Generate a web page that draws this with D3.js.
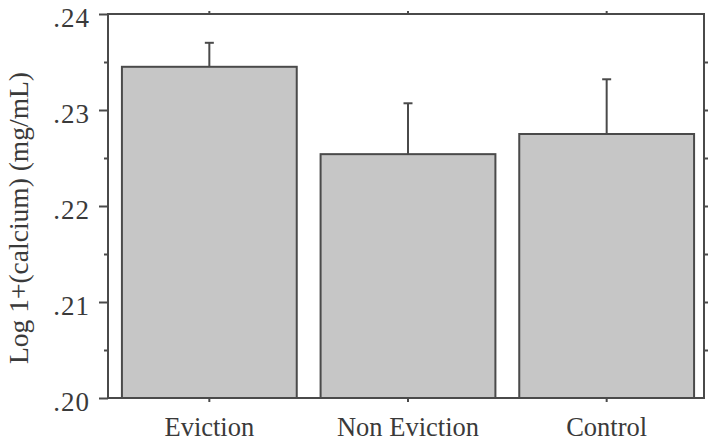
<!DOCTYPE html>
<html>
<head>
<meta charset="utf-8">
<script src="https://cdn.jsdelivr.net/npm/d3@7"></script>
<style>
  html, body { margin: 0; padding: 0; background: #fff; }
  svg text { font-family: "Liberation Serif", "Times New Roman", serif; fill: #3a3a3a; }
</style>
</head>
<body>
<svg id="chart" width="708" height="442"></svg>
<script>
const categories = ["Eviction", "Non Eviction", "Control"];
const means = [0.2345, 0.2254, 0.2275];
const errorTops = [0.2370, 0.2307, 0.2332];
const yTickValues = [0.20, 0.21, 0.22, 0.23, 0.24];
const yTickLabels = [".20", ".21", ".22", ".23", ".24"];
const yMinorTicks = [0.205, 0.215, 0.225, 0.235];
const yLabel = "Log 1+(calcium) (mg/mL)";

const svg = d3.select("#chart");
const frame = { left: 108, right: 704, top: 14, bottom: 398 };

const y = d3.scaleLinear().domain([0.20, 0.24]).range([frame.bottom, frame.top]);
const x = d3.scaleBand().domain(categories).range([110, 706]).paddingInner(0.12).paddingOuter(0.06);

const ink = "#4a4a4a";

// bars
svg.append("g").selectAll("rect").data(categories).join("rect")
  .attr("x", d => x(d))
  .attr("y", (d, i) => y(means[i]))
  .attr("width", x.bandwidth())
  .attr("height", (d, i) => y(0.20) - y(means[i]))
  .attr("fill", "#c6c6c6")
  .attr("stroke", ink)
  .attr("stroke-width", 2);

// error bars
const eb = svg.append("g").attr("stroke", ink).attr("stroke-width", 2);
categories.forEach((c, i) => {
  const cx = x(c) + x.bandwidth() / 2;
  eb.append("line").attr("x1", cx).attr("x2", cx).attr("y1", y(means[i])).attr("y2", y(errorTops[i]));
  eb.append("line").attr("x1", cx - 4.5).attr("x2", cx + 4.5).attr("y1", y(errorTops[i])).attr("y2", y(errorTops[i]));
});

// left axis
const left = svg.append("g").attr("transform", `translate(${frame.left},0)`)
  .call(d3.axisLeft(y).tickValues(yTickValues).tickFormat((d, i) => yTickLabels[i]).tickSize(9).tickPadding(0));
left.select(".domain").remove();
left.selectAll(".tick line").attr("stroke", ink).attr("stroke-width", 2);
left.selectAll(".tick text").attr("x", -18).attr("dy", "12.5").attr("font-size", 27)
  .attr("letter-spacing", 1)
  .attr("font-family", "Liberation Serif").attr("fill", "#3a3a3a");
svg.append("g").attr("transform", `translate(${frame.left},0)`)
  .call(d3.axisLeft(y).tickValues(yMinorTicks).tickFormat("").tickSize(4))
  .call(g => g.select(".domain").remove())
  .call(g => g.selectAll(".tick line").attr("stroke", ink).attr("stroke-width", 2));

// right axis ticks
svg.append("g").attr("transform", `translate(${frame.right},0)`)
  .call(d3.axisRight(y).tickValues(yMinorTicks.concat([0.21, 0.22, 0.23])).tickFormat("").tickSize(4))
  .call(g => g.select(".domain").remove())
  .call(g => g.selectAll(".tick line").attr("stroke", ink).attr("stroke-width", 2));

// bottom axis
const bottom = svg.append("g").attr("transform", `translate(0,${frame.bottom})`)
  .call(d3.axisBottom(x).tickSize(4).tickPadding(0));
bottom.select(".domain").remove();
bottom.selectAll(".tick line").attr("stroke", ink).attr("stroke-width", 2);
bottom.selectAll(".tick text").attr("y", 37.5).attr("dy", 0).attr("font-size", 26.5)
  .attr("font-family", "Liberation Serif").attr("fill", "#3a3a3a");

// top axis ticks
svg.append("g").attr("transform", `translate(0,${frame.top})`)
  .call(d3.axisTop(x).tickSize(3).tickFormat(""))
  .call(g => g.select(".domain").remove())
  .call(g => g.selectAll(".tick line").attr("stroke", ink).attr("stroke-width", 2));

// frame
svg.append("rect")
  .attr("x", frame.left).attr("y", frame.top)
  .attr("width", frame.right - frame.left).attr("height", frame.bottom - frame.top)
  .attr("fill", "none").attr("stroke", ink).attr("stroke-width", 2);

// y label
svg.append("text")
  .attr("transform", `translate(28,218) rotate(-90)`)
  .attr("text-anchor", "middle")
  .attr("font-size", 27.5)
  .text(yLabel);
</script>
</body>
</html>
